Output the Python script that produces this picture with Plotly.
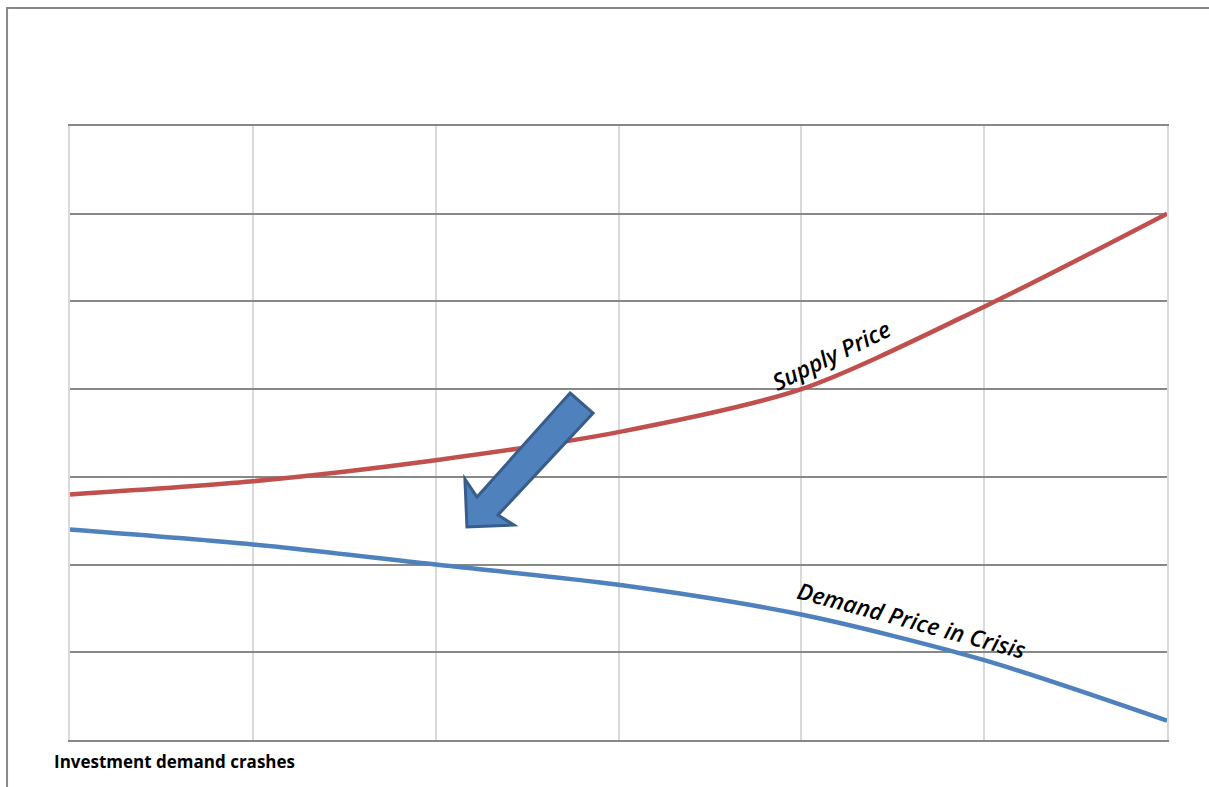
import plotly.graph_objects as go

# Quantity steps along the horizontal axis
quantity = [0, 1, 2, 3, 4, 5, 6]
# Price levels for the two curves
supply_price = [2.8, 2.95, 3.19, 3.51, 4.0, 4.94, 6.0]
demand_price = [2.4, 2.23, 2.0, 1.77, 1.43, 0.91, 0.22]

# Block arrow outline (data units): tail edge, shaft, head
arrow_x = [2.735, 2.861, 2.341, 2.428, 2.171, 2.160, 2.226]
arrow_y = [3.956, 3.728, 2.565, 2.451, 2.428, 2.976, 2.770]

RED = "#c0504d"
BLUE = "#4f81bd"
FONT = "Open Sans"

fig = go.Figure()
fig.add_trace(go.Scatter(x=quantity, y=supply_price, mode="lines",
                         line=dict(color=RED, width=4.5, shape="spline", smoothing=0.8),
                         hoverinfo="skip"))
fig.add_trace(go.Scatter(x=quantity, y=demand_price, mode="lines",
                         line=dict(color=BLUE, width=4.5, shape="spline", smoothing=0.8),
                         hoverinfo="skip"))

path = "M " + " L ".join(f"{x},{y}" for x, y in zip(arrow_x, arrow_y)) + " Z"
shapes = [
    dict(type="path", xref="x", yref="y", path=path,
         fillcolor=BLUE, line=dict(color="#385d8a", width=3), layer="above"),
    # outer frame (left and top edges)
    dict(type="path", xref="paper", yref="paper",
         path="M -0.0574,-0.2 L -0.0574,1.192 L 1.2,1.192",
         line=dict(color="#888888", width=2)),
]

annotations = [
    dict(x=4.162, y=4.389, xref="x", yref="y", text="<i>Supply Price</i>",
         showarrow=False, textangle=-26,
         font=dict(family=FONT, size=23, color="black", weight=600)),
    dict(x=4.605, y=1.368, xref="x", yref="y", text="<i>Demand Price in Crisis</i>",
         showarrow=False, textangle=15,
         font=dict(family=FONT, size=23, color="black", weight=600)),
    dict(x=-0.0164, y=-0.0358, xref="paper", yref="paper",
         text="<b>Investment demand crashes</b>", showarrow=False,
         xanchor="left", yanchor="middle",
         font=dict(family=FONT, size=17, color="black")),
]

fig.update_layout(
    width=1209, height=787,
    margin=dict(l=70, r=42, t=126, b=47),
    paper_bgcolor="white", plot_bgcolor="white",
    showlegend=False,
    shapes=shapes,
    annotations=annotations,
    xaxis=dict(range=[0, 6], dtick=1, showgrid=True, gridcolor="#d9d9d9", gridwidth=1.5,
               zeroline=False, showticklabels=False, ticks="",
               showline=True, linecolor="#888888", linewidth=2, mirror=True),
    yaxis=dict(range=[0, 7], dtick=1, showgrid=True, gridcolor="#888888", gridwidth=1.5,
               zeroline=False, showticklabels=False, ticks="",
               showline=True, linecolor="#d9d9d9", linewidth=2, mirror=True),
)

fig.write_html("out.html")
